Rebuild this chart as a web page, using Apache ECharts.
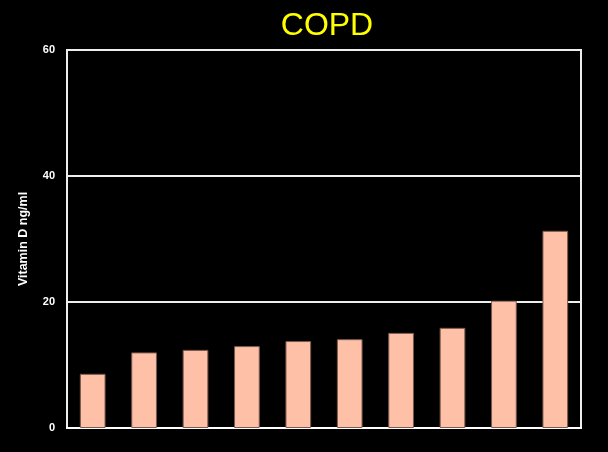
<!DOCTYPE html>
<html>
<head>
<meta charset="utf-8">
<script src="https://cdn.jsdelivr.net/npm/echarts@6/dist/echarts.min.js"></script>
<style>
  html, body { margin: 0; padding: 0; background: #000; }
  #chart { width: 608px; height: 452px; }
</style>
</head>
<body>
<div id="chart"></div>
<script>
// patients, sorted by level
var categories = ['1', '2', '3', '4', '5', '6', '7', '8', '9', '10'];
var vitaminD = [8.6, 12.0, 12.4, 13.0, 13.8, 14.1, 15.1, 15.9, 20.2, 31.3];
var yTicks = [0, 20, 40, 60];

var chart = echarts.init(document.getElementById('chart'));
chart.setOption({
  backgroundColor: '#000',
  animation: false,
  title: {
    text: 'COPD',
    left: 322,
    top: 5,
    textAlign: 'center',
    textStyle: {
      color: '#ffff00',
      fontFamily: 'Liberation Sans',
      fontWeight: 'normal',
      fontSize: 32
    }
  },
  grid: {
    left: 67,
    right: 27,
    top: 50,
    bottom: 24,
    show: true,
    borderColor: '#eeeeee',
    borderWidth: 2
  },
  xAxis: {
    type: 'category',
    data: categories,
    axisLine: { show: true, lineStyle: { color: '#ffffff', width: 2 } },
    axisTick: { show: false },
    axisLabel: { show: false }
  },
  yAxis: {
    type: 'value',
    min: yTicks[0],
    max: yTicks[yTicks.length - 1],
    interval: 20,
    name: 'Vitamin D ng/ml',
    nameLocation: 'middle',
    nameGap: 37,
    nameTextStyle: {
      color: '#fff',
      fontFamily: 'Liberation Sans',
      fontWeight: 'bold',
      fontSize: 12.5
    },
    axisLine: { show: true, lineStyle: { color: '#eeeeee', width: 2 } },
    axisTick: { show: false },
    axisLabel: {
      color: '#fff',
      fontFamily: 'Liberation Sans',
      fontWeight: 'bold',
      fontSize: 11,
      margin: 12
    },
    splitLine: { lineStyle: { color: '#eeeeee', width: 2 } }
  },
  series: [{
    type: 'bar',
    data: vitaminD,
    barWidth: '50%',
    itemStyle: {
      color: '#ffc0a8',
      borderColor: '#7a5a4c',
      borderWidth: 1
    }
  }]
});
</script>
</body>
</html>
